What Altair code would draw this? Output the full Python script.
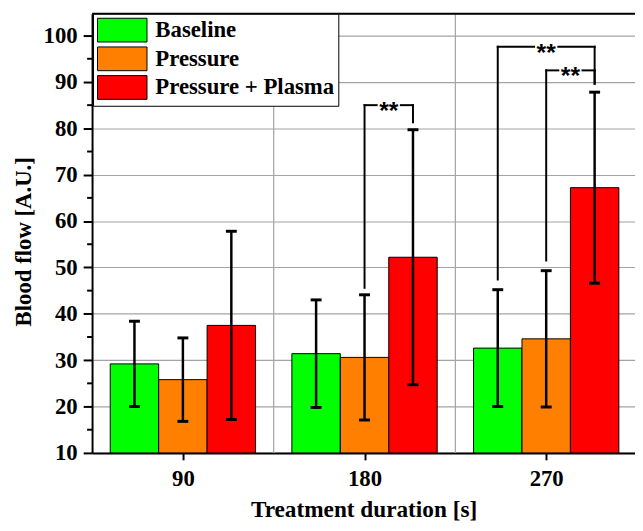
import altair as alt
import pandas as pd

# ---------------- data ----------------
durations = [90, 180, 270]
groups = ["Baseline", "Pressure", "Pressure + Plasma"]
colors = ["#00ff00", "#ff8000", "#ff0000"]

mean_baseline = [29.2, 31.4, 32.6]
mean_pressure = [25.8, 30.6, 34.6]
mean_plasma = [37.5, 52.2, 67.2]

sd_baseline = [9.2, 11.6, 12.6]
sd_pressure = [9.0, 13.5, 14.7]
sd_plasma = [20.3, 27.5, 20.6]

# significance brackets
br_x1 = [180, 246, 270]
br_x2 = [204, 294, 294]
br_top = [85.0, 97.6, 92.5]
br_left_end = [45.6, 47.4, 51.5]
br_right_end = [81.3, 89.6, 89.6]
br_label = ["**", "**", "**"]

y_ticks = [10, 20, 30, 40, 50, 60, 70, 80, 90, 100]
y_minor = [15, 25, 35, 45, 55, 65, 75, 85, 95]
x_ticks = [90, 180, 270]
x_grid = [135, 225]

# ---------------- tables ----------------
BAR_W = 24
rows = []
for gi, (g, ms, ss) in enumerate(zip(groups,
                                     [mean_baseline, mean_pressure, mean_plasma],
                                     [sd_baseline, sd_pressure, sd_plasma])):
    for d, m, s in zip(durations, ms, ss):
        rows.append(dict(duration=d, group=g, order=gi, mean=m, sd=s))
df = pd.DataFrame(rows)
df["x_lo"] = df["duration"] + (df["order"] - 1.5) * BAR_W
df["x_hi"] = df["x_lo"] + BAR_W
df["xc"] = df["duration"] + (df["order"] - 1) * BAR_W
df["lo"] = df["mean"] - df["sd"]
df["hi"] = df["mean"] + df["sd"]
df["cap_l"] = df["xc"] - 2.7
df["cap_r"] = df["xc"] + 2.7

GAP = 6
br = pd.DataFrame(dict(x1=br_x1, x2=br_x2, top=br_top, yl=br_left_end,
                       yr=br_right_end, label=br_label))
br["mid"] = (br["x1"] + br["x2"]) / 2
br["g1"] = br["mid"] - GAP
br["g2"] = br["mid"] + GAP

# ---------------- scales / axes ----------------
XMIN, XMAX = 45, 314
YMIN, YMAX = 10, 104.7
W, H = 549, 444
xs = alt.Scale(domain=[XMIN, XMAX], nice=False, zero=False)
ys = alt.Scale(domain=[YMIN, YMAX], nice=False, zero=False)

SERIF = "Liberation Serif"
GRID = "#a3a3a3"
FS = 23

xaxis = alt.Axis(values=x_ticks, format="d", title="Treatment duration [s]",
                 grid=False, tickSize=7, tickWidth=2, tickColor="black",
                 domainColor="black", domainWidth=2,
                 labelFont=SERIF, labelFontSize=FS, labelFontWeight="bold",
                 labelColor="black", labelPadding=8,
                 titleFont=SERIF, titleFontSize=23.5, titleFontWeight="bold",
                 titleColor="black", titlePadding=7)
yaxis = alt.Axis(values=y_ticks, format="d", title="Blood flow [A.U.]",
                 grid=True, gridColor=GRID, gridWidth=1.2,
                 tickSize=9, tickWidth=2, tickColor="black",
                 domainColor="black", domainWidth=2,
                 labelFont=SERIF, labelFontSize=FS, labelFontWeight="bold",
                 labelColor="black", labelPadding=6,
                 titleFont=SERIF, titleFontSize=FS, titleFontWeight="bold",
                 titleColor="black", titlePadding=8, titleY=230)

legend = alt.Legend(title=None, orient="none", legendX=1, legendY=0,
                    symbolType="M-1,-1H3.17V1H-1Z", symbolSize=576,
                    symbolStrokeColor="black", symbolStrokeWidth=1,
                    symbolOpacity=1,
                    labelFont=SERIF, labelFontSize=FS, labelFontWeight="bold",
                    labelColor="black", labelOffset=34, labelLimit=400,
                    rowPadding=0, padding=4,
                    strokeColor="black", fillColor="white")


def X(f):
    return alt.X(f, scale=xs, axis=xaxis)


def Y(f):
    return alt.Y(f, scale=ys, axis=yaxis)


base = alt.Chart(df)

vgrid = alt.Chart(pd.DataFrame({"v": x_grid})).mark_rule(
    color=GRID, strokeWidth=1.2).encode(x=X("v:Q"))

bars = base.mark_bar(stroke="black", strokeWidth=1, opacity=1).encode(
    x=X("x_lo:Q"),
    x2="x_hi:Q",
    y=Y("mean:Q"),
    y2=alt.datum(YMIN),
    color=alt.Color("group:N", scale=alt.Scale(domain=groups, range=colors),
                    legend=legend),
)

err = base.mark_rule(color="black", strokeWidth=2.5).encode(
    x=X("xc:Q"), y=Y("lo:Q"), y2="hi:Q")
cap_hi = base.mark_rule(color="black", strokeWidth=3).encode(
    x=X("cap_l:Q"), x2="cap_r:Q", y=Y("hi:Q"))
cap_lo = base.mark_rule(color="black", strokeWidth=3).encode(
    x=X("cap_l:Q"), x2="cap_r:Q", y=Y("lo:Q"))

bb = alt.Chart(br)
leg_l = bb.mark_rule(color="black", strokeWidth=2, strokeCap="square").encode(
    x=X("x1:Q"), y=Y("yl:Q"), y2="top:Q")
leg_r = bb.mark_rule(color="black", strokeWidth=2, strokeCap="square").encode(
    x=X("x2:Q"), y=Y("yr:Q"), y2="top:Q")
h1 = bb.mark_rule(color="black", strokeWidth=2, strokeCap="square").encode(
    x=X("x1:Q"), x2="g1:Q", y=Y("top:Q"))
h2 = bb.mark_rule(color="black", strokeWidth=2, strokeCap="square").encode(
    x=X("g2:Q"), x2="x2:Q", y=Y("top:Q"))
stars = bb.mark_text(font="Liberation Sans", fontSize=25, fontWeight="bold",
                     baseline="alphabetic", dy=14, color="black").encode(
    x=X("mid:Q"), y=Y("top:Q"), text="label:N")

minor = alt.Chart(pd.DataFrame({"m": y_minor})).mark_rule(
    color="black", strokeWidth=2).encode(
    y=Y("m:Q"), x=alt.value(-5), x2=alt.value(0))

top_frame = alt.Chart(pd.DataFrame({"t": [YMAX]})).mark_rule(
    color="black", strokeWidth=2).encode(
    y=Y("t:Q"), x=alt.value(0), x2=alt.value(W))

chart = alt.layer(vgrid, bars, err, cap_hi, cap_lo, leg_l, leg_r, h1, h2,
                  stars, minor, top_frame).properties(
    width=W, height=H,
    autosize=alt.AutoSizeParams(type="none"),
    padding={"left": 85, "top": 3, "right": 0, "bottom": 68},
).configure_view(stroke=None).configure(background="white")

chart.save("out.html", embed_options={"renderer": "svg", "actions": False})
